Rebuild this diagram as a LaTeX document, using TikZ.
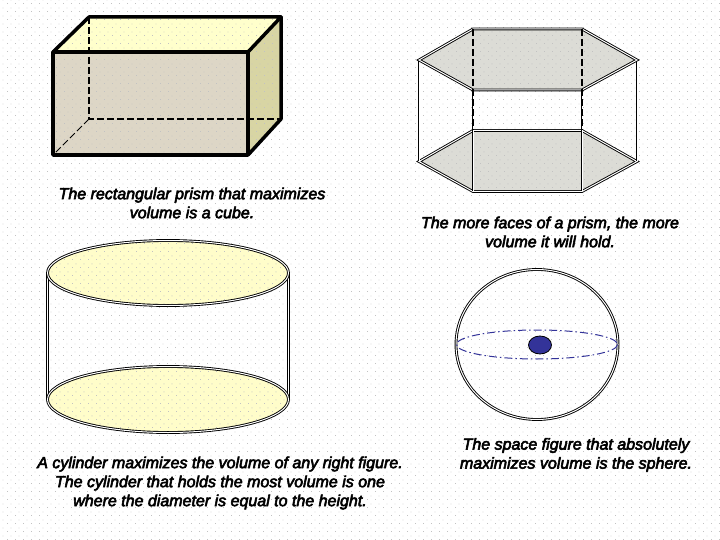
\documentclass[tikz,border=0pt]{standalone}
\usepackage{fontspec}
\newfontfamily\labfont{Liberation Sans}[UprightFont=* Italic, FakeBold=3.5]
\usetikzlibrary{patterns.meta,shapes.geometric}
\definecolor{dotgray}{HTML}{C2C2C2}
\definecolor{boxfront}{HTML}{DDD6C6}
\definecolor{boxtop}{HTML}{FFFFCC}
\definecolor{boxside}{HTML}{D8D5A4}
\definecolor{hexgray}{HTML}{DCDCD6}
\definecolor{cylfill}{HTML}{FFFDCA}
\definecolor{sphblue}{HTML}{333399}
\tikzdeclarepattern{
  name=bgdots, type=colored,
  bottom left={(0pt,0pt)}, top right={(8pt,8pt)}, tile size={(8pt,8pt)},
  code={\fill[dotgray] (0pt,0pt) rectangle (1pt,1pt);
        \fill[dotgray] (4pt,4pt) rectangle (5pt,5pt);}
}
\tikzset{
  dotover/.style={pattern=bgdots},
  boxedge/.style={line width=3.5pt, line join=round, line cap=round, draw=black},
  hidden/.style={line width=1.4pt, draw=black, dash pattern=on 7pt off 3pt},
  dbl/.style={draw=black, line width=0.9pt, double=white, double distance=1pt},
  equator/.style={draw=sphblue, line width=1pt, dash pattern=on 8pt off 3pt on 1.5pt off 3pt},
  caption/.style={font=\labfont\fontsize{16}{19}\selectfont, align=center, inner sep=0pt}
}
\begin{document}
\begin{tikzpicture}[x=1pt,y=-1pt]
\useasboundingbox (0,0) rectangle (720,540);
% background
\fill[white] (0,0) rectangle (720,540);
\fill[dotover] (0,0) rectangle (720,540);

% ---------- rectangular prism ----------
\coordinate (bA) at (53,52);    % front top left
\coordinate (bB) at (248,52);   % front top right
\coordinate (bC) at (248,155);  % front bottom right
\coordinate (bD) at (53,155);   % front bottom left
\coordinate (bE) at (89,17);    % back top left
\coordinate (bF) at (281,17);   % back top right
\coordinate (bG) at (281,119);  % back bottom right
\coordinate (bH) at (89,119);   % back bottom left
\fill[boxfront] (bA) -- (bB) -- (bC) -- (bD) -- cycle;
\fill[boxtop] (bA) -- (bE) -- (bF) -- (bB) -- cycle;
\fill[boxside] (bB) -- (bF) -- (bG) -- (bC) -- cycle;
\fill[dotover] (bA) -- (bE) -- (bF) -- (bG) -- (bC) -- (bD) -- cycle;
\draw[hidden] (bE) -- (bH) -- (bG);
\draw[hidden, line width=1pt] (bH) -- (bD);
\draw[boxedge] (bA) -- (bB) -- (bC) -- (bD) -- cycle;
\draw[boxedge] (bA) -- (bE) -- (bF) -- (bB);
\draw[boxedge] (bF) -- (bG) -- (bC);

% ---------- hexagonal prism ----------
\coordinate (t1) at (473,29);
\coordinate (t2) at (582,29);
\coordinate (t3) at (637,60);
\coordinate (t4) at (582,90);
\coordinate (t5) at (473,90);
\coordinate (t6) at (419,60);
\coordinate (u1) at (473,130.5);
\coordinate (u2) at (582,130.5);
\coordinate (u3) at (637,161.5);
\coordinate (u4) at (582,191.5);
\coordinate (u5) at (473,191.5);
\coordinate (u6) at (419,161.5);
\fill[hexgray] (t1) -- (t2) -- (t3) -- (t4) -- (t5) -- (t6) -- cycle;
\fill[hexgray] (u1) -- (u2) -- (u3) -- (u4) -- (u5) -- (u6) -- cycle;
\fill[dotover] (t1) -- (t2) -- (t3) -- (t4) -- (t5) -- (t6) -- cycle;
\fill[dotover] (u1) -- (u2) -- (u3) -- (u4) -- (u5) -- (u6) -- cycle;
\draw[dbl] (u1) -- (u2) -- (u3) -- (u4) -- (u5) -- (u6) -- cycle;
\draw[dbl] (t6) -- (u6);
\draw[dbl] (t3) -- (u3);
\draw[dbl] (t5) -- (u5);
\draw[dbl] (t4) -- (u4);
\draw[dbl] (t1) -- (t2) -- (t3) -- (t4) -- (t5) -- (t6) -- cycle;
\draw[hidden] (t1) -- (u1);
\draw[hidden] (t2) -- (u2);

% ---------- cylinder ----------
\coordinate (cT) at (168,273);
\coordinate (cB) at (168,399.5);
\coordinate (cTL) at (47.5,273);
\coordinate (cTR) at (288.5,273);
\coordinate (cBL) at (47.5,399.5);
\coordinate (cBR) at (288.5,399.5);
\fill[cylfill] (cT) ellipse [x radius=120.5, y radius=32.5];
\fill[cylfill] (cB) ellipse [x radius=120.5, y radius=33];
\fill[dotover] (cT) ellipse [x radius=120.5, y radius=32.5];
\fill[dotover] (cB) ellipse [x radius=120.5, y radius=33];
\draw[dbl] (cTL) -- (cBL);
\draw[dbl] (cTR) -- (cBR);
\draw[dbl] (cT) ellipse [x radius=120.5, y radius=32.5];
\draw[dbl] (cB) ellipse [x radius=120.5, y radius=33];

% ---------- sphere ----------
\coordinate (sC) at (537,344.5);
\draw[dbl] (sC) ellipse [x radius=81, y radius=75];
\draw[equator] (sC) ellipse [x radius=80.5, y radius=14.5];
\node[ellipse, fill=sphblue, draw=black, line width=0.8pt, minimum width=23pt, minimum height=18pt, inner sep=0pt] (sdot) at (540,345) {};

% ---------- captions ----------
\node[caption] (cap1) at (192,203) {The rectangular prism that maximizes\\volume is a cube.};
\node[caption] (cap2) at (550,232) {The more faces of a prism, the more\\volume it will hold.};
\node[caption] (cap3) at (220,483) {A cylinder maximizes the volume of any right figure.\\The cylinder that holds the most volume is one\\where the diameter is equal to the height.};
\node[caption] (cap4) at (576,455) {The space figure that absolutely\\maximizes volume is the sphere.};
\end{tikzpicture}
\end{document}
